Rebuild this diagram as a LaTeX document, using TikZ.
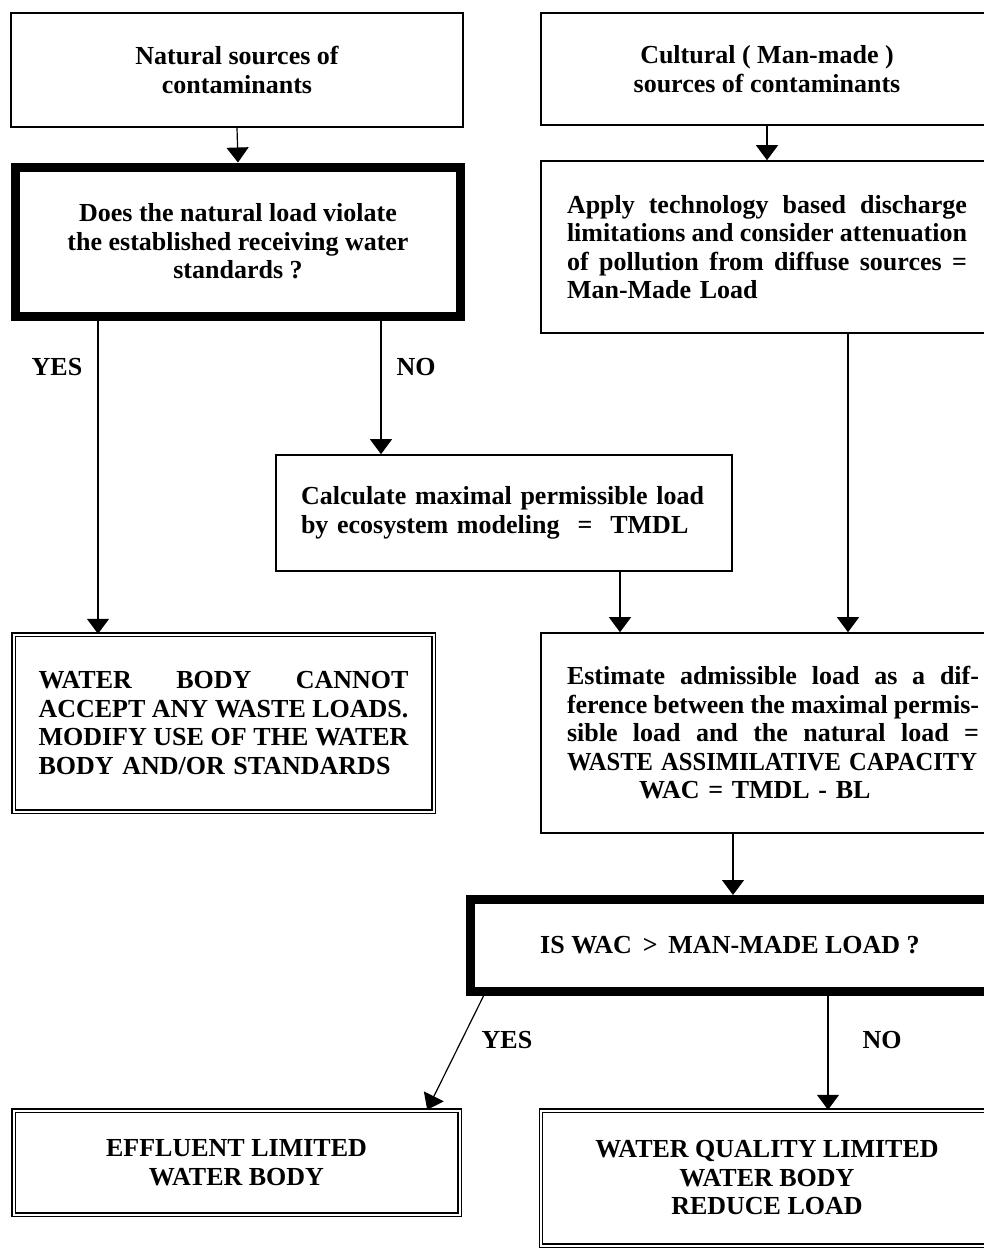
\documentclass[tikz,border=0pt]{standalone}
\usepackage{fontspec}
\setmainfont{Liberation Serif}
\usetikzlibrary{arrows.meta,calc}
\newcommand{\fillrow}[2]{\makebox[#1][s]{\spaceskip=.25em plus 2em minus .12em\relax #2}}

\begin{document}
\begin{tikzpicture}[x=1pt, y=-1pt,
  every node/.style={font=\bfseries\fontsize{26}{28.5}\selectfont, align=center,
                     inner sep=0pt},
  box/.style={draw, line width=1.6pt},
  thickbox/.style={draw, line width=9pt},
  dbox/.style={draw, double, line width=1.4pt, double distance=2pt},
]
\useasboundingbox (0,0) rectangle (984,1250);

% === Sources (top row) ===
\node[box, minimum width=452pt, minimum height=114pt]
      (nat) at (237,70) {Natural sources of\\contaminants};
\node[box, minimum width=452pt, minimum height=112pt]
      (cult) at (767,69) {Cultural ( Man-made )\\sources of contaminants};

% === Left branch ===
\node[thickbox, minimum width=445pt, minimum height=149pt]
      (viol) at (238,241.5) {Does the natural load violate\\the established receiving water\\standards ?};
\node[box, minimum width=456pt, minimum height=116pt, text width=406pt, align=left]
      (tmdl) at (504,513) {Calculate maximal permissible load\\by ecosystem modeling\hspace{18pt}=\hspace{18pt}TMDL};
\node[dbox, minimum width=420pt, minimum height=177pt, text width=370pt, align=left]
      (cannot) at (223.5,723) {\fillrow{370pt}{WATER BODY CANNOT}\\
        \fillrow{370pt}{ACCEPT ANY WASTE LOADS.}\\
        \fillrow{370pt}{MODIFY USE OF THE WATER}\\
        BODY AND/OR STANDARDS};

% === Right branch ===
\node[box, minimum width=452pt, minimum height=172pt, text width=400pt, align=left]
      (tech) at (767,247) {\fillrow{400pt}{Apply technology based discharge}\\
        \fillrow{400pt}{limitations and consider attenuation}\\
        \fillrow{400pt}{of pollution from diffuse sources =}\\
        Man-Made Load};
\node[box, minimum width=464pt, minimum height=200pt, text width=412pt, align=left]
      (wac) at (773,733) {\fillrow{412pt}{Estimate admissible load as a dif-}\\
        \fillrow{412pt}{ference between the maximal permis-}\\
        \fillrow{412pt}{sible load and the natural load =}\\
        \scalebox{0.945}[1]{WASTE ASSIMILATIVE CAPACITY}\\
        \hspace*{72pt}WAC = TMDL - BL};

% === Comparison and outcomes ===
\node[thickbox, minimum width=520pt, minimum height=92pt]
      (cmp) at (730,945.5) {IS WAC \,>\, MAN-MADE LOAD ?};
\node[dbox, minimum width=446pt, minimum height=104pt]
      (eff) at (236.5,1162.5) {EFFLUENT LIMITED\\WATER BODY};
\node[dbox, minimum width=452pt, minimum height=135pt]
      (wql) at (767,1178) {WATER QUALITY LIMITED\\WATER BODY\\REDUCE LOAD};

% x positions of the vertical connectors
\coordinate (yesx) at (98,0);
\coordinate (nox) at (381,0);
\coordinate (techx) at (848,0);
\coordinate (tmdlx) at (620,0);
\coordinate (wacx) at (733,0);
\coordinate (wqlx) at (828,0);

% === Arrows ===
\draw[-{Triangle[width=22pt, length=15pt]}, line width=1.2pt] (nat.south) -- (viol.north);
\draw[-{Triangle[width=22pt, length=15pt]}, line width=1.2pt] (cult.south) -- (tech.north);
\draw[-{Triangle[width=22pt, length=15pt]}, line width=1.2pt] (viol.south -| yesx) -- (cannot.north -| yesx);
\draw[-{Triangle[width=22pt, length=15pt]}, line width=1.2pt] (viol.south -| nox) -- (tmdl.north -| nox);
\draw[-{Triangle[width=22pt, length=15pt]}, line width=1.2pt] (tech.south -| techx) -- (wac.north -| techx);
\draw[-{Triangle[width=22pt, length=15pt]}, line width=1.2pt] (tmdl.south -| tmdlx) -- (wac.north -| tmdlx);
\draw[-{Triangle[width=22pt, length=15pt]}, line width=1.2pt] (wac.south -| wacx) -- (cmp.north -| wacx);
\draw[-{Triangle[width=22pt, length=15pt]}, line width=1.2pt] ($(cmp.south west)+(18,0)$) -- ($(eff.north east)+(-33,0)$);
\draw[-{Triangle[width=22pt, length=15pt]}, line width=1.2pt] (cmp.south -| wqlx) -- (wql.north -| wqlx);

% Labels on arrows
\node (yes1) at (57,367) {YES};
\node (no1) at (416,367) {NO};
\node (yes2) at (507,1040) {YES};
\node (no2) at (882,1040) {NO};

\end{tikzpicture}
\end{document}
